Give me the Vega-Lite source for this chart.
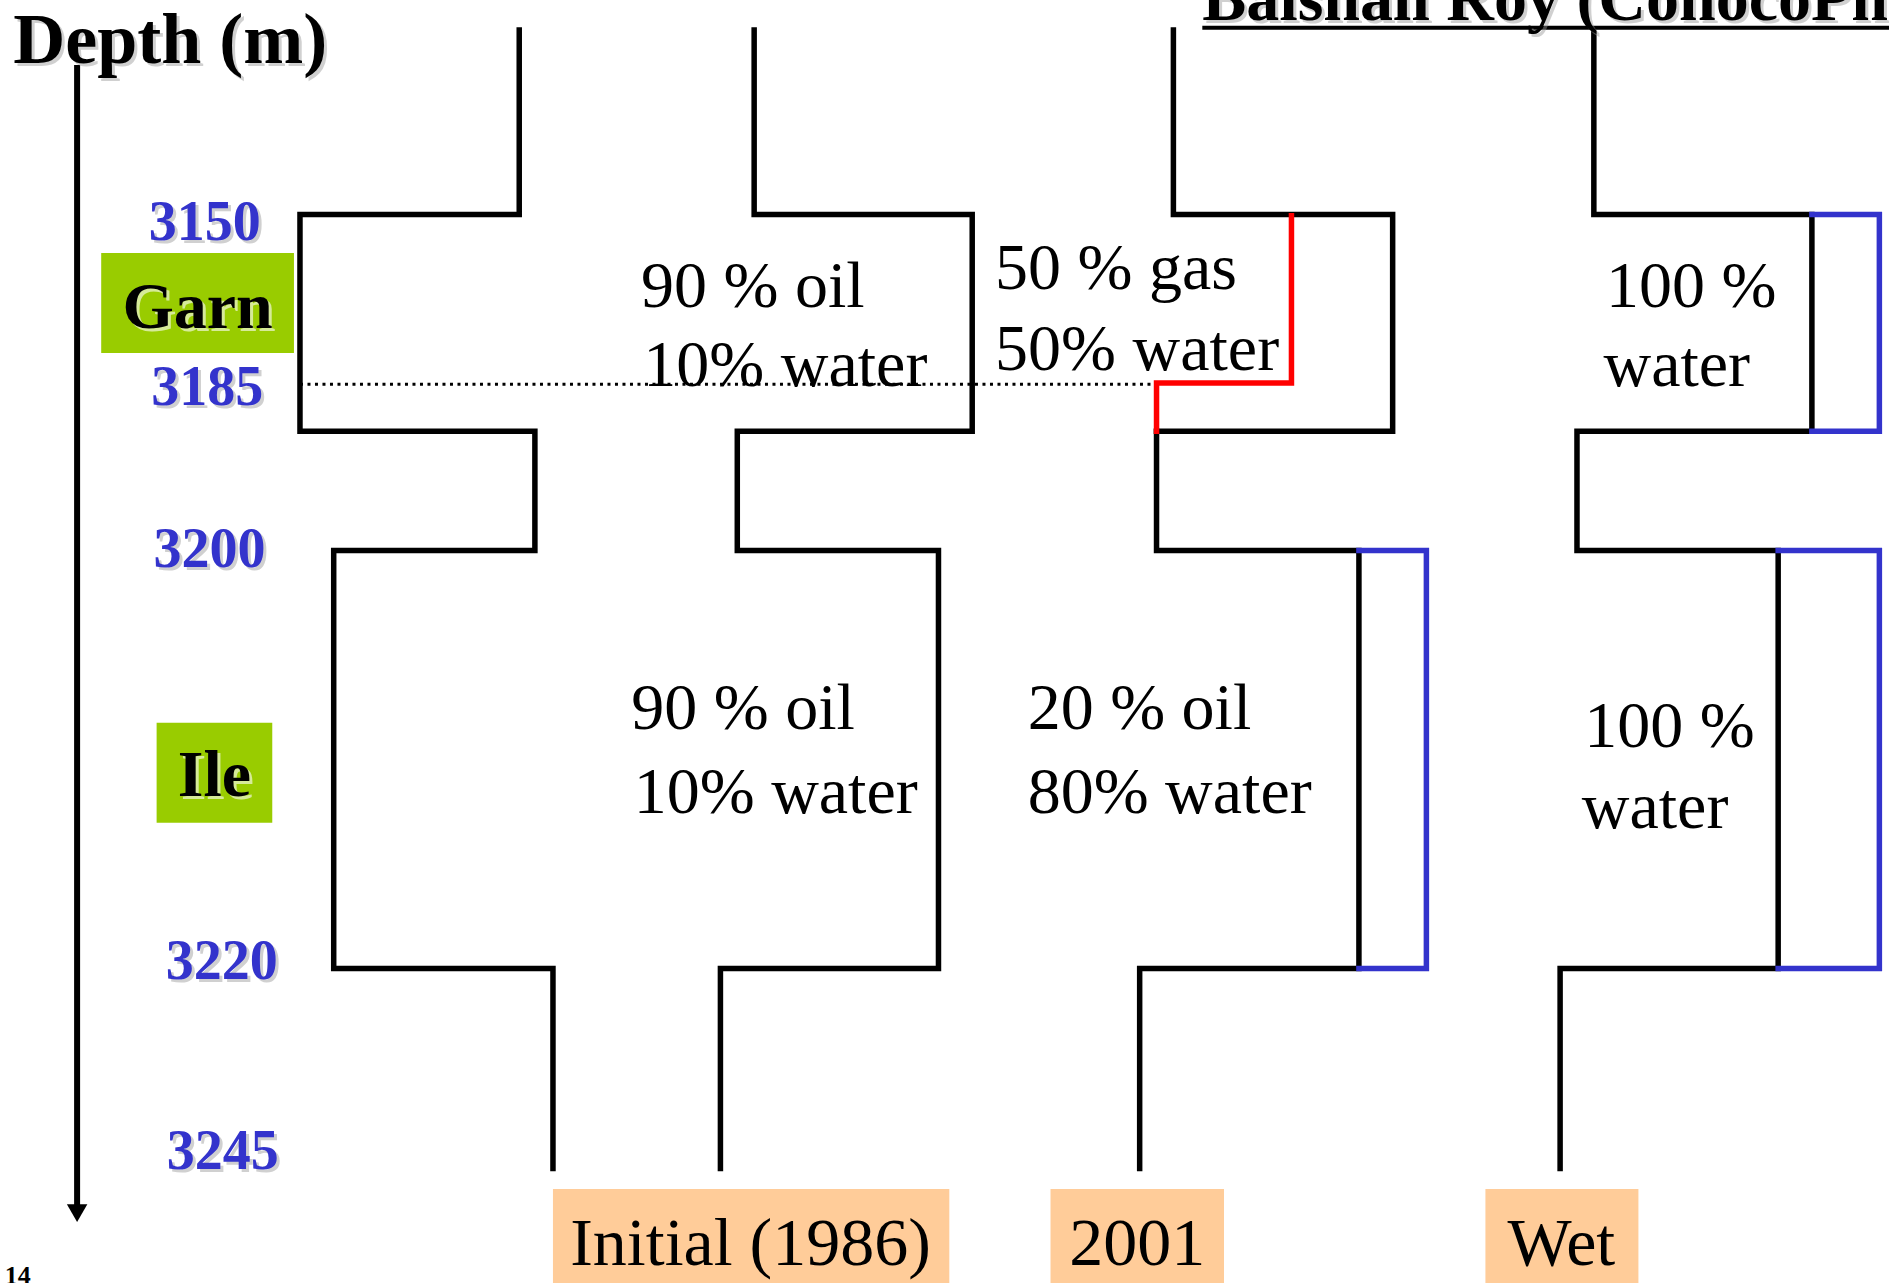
{
  "$schema": "https://vega.github.io/schema/vega-lite/v6.json",
  "width": 1889,
  "height": 1283,
  "autosize": {"type": "none"},
  "padding": 0,
  "background": "white",
  "config": {"view": {"stroke": null}},
  "resolve": {"scale": {"color": "independent"}},
  "datasets": {
    "boxes": [
      {"kind": "formation", "x1": 84, "x2": 244, "y1": 210, "y2": 293},
      {"kind": "formation", "x1": 130, "x2": 226, "y1": 600, "y2": 683},
      {"kind": "case", "x1": 459, "x2": 788, "y1": 987, "y2": 1066},
      {"kind": "case", "x1": 872, "x2": 1016, "y1": 987, "y2": 1066},
      {"kind": "case", "x1": 1233, "x2": 1360, "y1": 987, "y2": 1066}
    ],
    "contact": [
      {"x": 249, "y": 319},
      {"x": 958, "y": 319}
    ],
    "paths": [
      {"path": "p1", "fluid": "well", "o": 0, "x": 431, "y": 25},
      {"path": "p1", "fluid": "well", "o": 1, "x": 431, "y": 178},
      {"path": "p1", "fluid": "well", "o": 2, "x": 249, "y": 178},
      {"path": "p1", "fluid": "well", "o": 3, "x": 249, "y": 358},
      {"path": "p1", "fluid": "well", "o": 4, "x": 444, "y": 358},
      {"path": "p1", "fluid": "well", "o": 5, "x": 444, "y": 457},
      {"path": "p1", "fluid": "well", "o": 6, "x": 277, "y": 457},
      {"path": "p1", "fluid": "well", "o": 7, "x": 277, "y": 804},
      {"path": "p1", "fluid": "well", "o": 8, "x": 459, "y": 804},
      {"path": "p1", "fluid": "well", "o": 9, "x": 459, "y": 970},
      {"path": "p2", "fluid": "well", "o": 0, "x": 626, "y": 25},
      {"path": "p2", "fluid": "well", "o": 1, "x": 626, "y": 178},
      {"path": "p2", "fluid": "well", "o": 2, "x": 807, "y": 178},
      {"path": "p2", "fluid": "well", "o": 3, "x": 807, "y": 358},
      {"path": "p2", "fluid": "well", "o": 4, "x": 612, "y": 358},
      {"path": "p2", "fluid": "well", "o": 5, "x": 612, "y": 457},
      {"path": "p2", "fluid": "well", "o": 6, "x": 779, "y": 457},
      {"path": "p2", "fluid": "well", "o": 7, "x": 779, "y": 804},
      {"path": "p2", "fluid": "well", "o": 8, "x": 598, "y": 804},
      {"path": "p2", "fluid": "well", "o": 9, "x": 598, "y": 970},
      {"path": "p3", "fluid": "well", "o": 0, "x": 974, "y": 25},
      {"path": "p3", "fluid": "well", "o": 1, "x": 974, "y": 178},
      {"path": "p3", "fluid": "well", "o": 2, "x": 1156, "y": 178},
      {"path": "p3", "fluid": "well", "o": 3, "x": 1156, "y": 358},
      {"path": "p3", "fluid": "well", "o": 4, "x": 960, "y": 358},
      {"path": "p4", "fluid": "well", "o": 0, "x": 960, "y": 358},
      {"path": "p4", "fluid": "well", "o": 1, "x": 960, "y": 457},
      {"path": "p4", "fluid": "well", "o": 2, "x": 1128, "y": 457},
      {"path": "p4", "fluid": "well", "o": 3, "x": 1128, "y": 804},
      {"path": "p4", "fluid": "well", "o": 4, "x": 946, "y": 804},
      {"path": "p4", "fluid": "well", "o": 5, "x": 946, "y": 970},
      {"path": "p7", "fluid": "well", "o": 0, "x": 1323, "y": 28},
      {"path": "p7", "fluid": "well", "o": 1, "x": 1323, "y": 178},
      {"path": "p7", "fluid": "well", "o": 2, "x": 1504, "y": 178},
      {"path": "p7", "fluid": "well", "o": 3, "x": 1504, "y": 358},
      {"path": "p7", "fluid": "well", "o": 4, "x": 1309, "y": 358},
      {"path": "p7", "fluid": "well", "o": 5, "x": 1309, "y": 457},
      {"path": "p7", "fluid": "well", "o": 6, "x": 1476, "y": 457},
      {"path": "p7", "fluid": "well", "o": 7, "x": 1476, "y": 804},
      {"path": "p7", "fluid": "well", "o": 8, "x": 1295, "y": 804},
      {"path": "p7", "fluid": "well", "o": 9, "x": 1295, "y": 970},
      {"path": "p5", "fluid": "gas", "o": 0, "x": 1072, "y": 179},
      {"path": "p5", "fluid": "gas", "o": 1, "x": 1072, "y": 318},
      {"path": "p5", "fluid": "gas", "o": 2, "x": 960, "y": 318},
      {"path": "p5", "fluid": "gas", "o": 3, "x": 960, "y": 358},
      {"path": "p6", "fluid": "water", "o": 0, "x": 1128, "y": 457},
      {"path": "p6", "fluid": "water", "o": 1, "x": 1184, "y": 457},
      {"path": "p6", "fluid": "water", "o": 2, "x": 1184, "y": 804},
      {"path": "p6", "fluid": "water", "o": 3, "x": 1128, "y": 804},
      {"path": "p8", "fluid": "water", "o": 0, "x": 1504, "y": 178},
      {"path": "p8", "fluid": "water", "o": 1, "x": 1560, "y": 178},
      {"path": "p8", "fluid": "water", "o": 2, "x": 1560, "y": 358},
      {"path": "p8", "fluid": "water", "o": 3, "x": 1504, "y": 358},
      {"path": "p9", "fluid": "water", "o": 0, "x": 1476, "y": 457},
      {"path": "p9", "fluid": "water", "o": 1, "x": 1560, "y": 457},
      {"path": "p9", "fluid": "water", "o": 2, "x": 1560, "y": 804},
      {"path": "p9", "fluid": "water", "o": 3, "x": 1476, "y": 804}
    ],
    "arrow": [
      {"x": 64, "y": 54, "y2": 1002}
    ],
    "arrowHead": [
      {"x": 64, "y": 1007}
    ],
    "underline": [
      {"x": 998, "x2": 1568, "y": 23}
    ],
    "wellText": [
      {"t": "90 % oil", "x": 532, "y": 255},
      {"t": "10% water", "x": 534, "y": 320},
      {"t": "90 % oil", "x": 524, "y": 605},
      {"t": "10% water", "x": 526, "y": 675},
      {"t": "50 % gas", "x": 826, "y": 240},
      {"t": "50% water", "x": 826, "y": 307},
      {"t": "20 % oil", "x": 853, "y": 605},
      {"t": "80% water", "x": 853, "y": 675},
      {"t": "100 %", "x": 1333, "y": 255},
      {"t": "water", "x": 1331, "y": 320},
      {"t": "100 %", "x": 1315, "y": 620},
      {"t": "water", "x": 1313, "y": 687}
    ],
    "depths": [
      {"t": "3150", "x": 170, "y": 199},
      {"t": "3185", "x": 172, "y": 336},
      {"t": "3200", "x": 174, "y": 471},
      {"t": "3220", "x": 184, "y": 813},
      {"t": "3245", "x": 185, "y": 970}
    ],
    "formations": [
      {"t": "Garn", "x": 164, "y": 272},
      {"t": "Ile", "x": 178, "y": 661}
    ],
    "cases": [
      {"t": "Initial (1986)", "x": 623, "y": 1050},
      {"t": "2001", "x": 944, "y": 1050},
      {"t": "Wet", "x": 1296, "y": 1050}
    ],
    "depthTitle": [{"t": "Depth (m)", "x": 11, "y": 52}],
    "author": [{"t": "Baishali Roy (ConocoPhillips)", "x": 998, "y": 17}],
    "page": [{"t": "14", "x": 4, "y": 1066}]
  },
  "layer": [
    {
      "data": {"name": "boxes"},
      "mark": {"type": "rect"},
      "encoding": {
        "x": {"field": "x1", "type": "quantitative", "scale": {"domain": [0, 1568], "nice": false, "zero": false}, "axis": null},
        "x2": {"field": "x2"},
        "y": {"field": "y1", "type": "quantitative", "scale": {"domain": [0, 1065], "nice": false, "zero": false, "reverse": true}, "axis": null},
        "y2": {"field": "y2"},
        "color": {"field": "kind", "type": "nominal", "scale": {"domain": ["formation", "case"], "range": ["#99CC00", "#FFCC99"]}, "legend": null}
      }
    },
    {
      "data": {"name": "contact"},
      "mark": {"type": "line", "color": "#000000", "strokeWidth": 3, "strokeDash": [3, 4.5]},
      "encoding": {
        "x": {"field": "x", "type": "quantitative", "scale": {"domain": [0, 1568], "nice": false, "zero": false}, "axis": null},
        "y": {"field": "y", "type": "quantitative", "scale": {"domain": [0, 1065], "nice": false, "zero": false, "reverse": true}, "axis": null}
      }
    },
    {
      "data": {"name": "paths"},
      "mark": {"type": "line", "strokeWidth": 5.5, "strokeCap": "square", "strokeJoin": "miter"},
      "encoding": {
        "x": {"field": "x", "type": "quantitative", "scale": {"domain": [0, 1568], "nice": false, "zero": false}, "axis": null},
        "y": {"field": "y", "type": "quantitative", "scale": {"domain": [0, 1065], "nice": false, "zero": false, "reverse": true}, "axis": null},
        "detail": {"field": "path", "type": "nominal"},
        "order": {"field": "o", "type": "quantitative"},
        "color": {"field": "fluid", "type": "nominal", "scale": {"domain": ["well", "gas", "water"], "range": ["#000000", "#FF0000", "#3333CC"]}, "legend": null}
      }
    },
    {
      "data": {"name": "arrow"},
      "mark": {"type": "rule", "color": "#000000", "strokeWidth": 6},
      "encoding": {
        "x": {"field": "x", "type": "quantitative", "scale": {"domain": [0, 1568], "nice": false, "zero": false}, "axis": null},
        "y": {"field": "y", "type": "quantitative", "scale": {"domain": [0, 1065], "nice": false, "zero": false, "reverse": true}, "axis": null},
        "y2": {"field": "y2"}
      }
    },
    {
      "data": {"name": "arrowHead"},
      "mark": {"type": "point", "shape": "triangle-down", "filled": true, "color": "#000000", "size": 420, "opacity": 1},
      "encoding": {
        "x": {"field": "x", "type": "quantitative", "scale": {"domain": [0, 1568], "nice": false, "zero": false}, "axis": null},
        "y": {"field": "y", "type": "quantitative", "scale": {"domain": [0, 1065], "nice": false, "zero": false, "reverse": true}, "axis": null}
      }
    },
    {
      "data": {"name": "underline"},
      "mark": {"type": "rule", "color": "#000000", "strokeWidth": 4},
      "encoding": {
        "x": {"field": "x", "type": "quantitative", "scale": {"domain": [0, 1568], "nice": false, "zero": false}, "axis": null},
        "x2": {"field": "x2"},
        "y": {"field": "y", "type": "quantitative", "scale": {"domain": [0, 1065], "nice": false, "zero": false, "reverse": true}, "axis": null}
      }
    },
    {
      "data": {"name": "wellText"},
      "mark": {"type": "text", "font": "Liberation Serif", "fontSize": 66, "align": "left", "baseline": "alphabetic", "color": "#000000"},
      "encoding": {
        "x": {"field": "x", "type": "quantitative", "scale": {"domain": [0, 1568], "nice": false, "zero": false}, "axis": null},
        "y": {"field": "y", "type": "quantitative", "scale": {"domain": [0, 1065], "nice": false, "zero": false, "reverse": true}, "axis": null},
        "text": {"field": "t"}
      }
    },
    {
      "data": {"name": "cases"},
      "mark": {"type": "text", "font": "Liberation Serif", "fontSize": 68, "align": "center", "baseline": "alphabetic", "color": "#000000"},
      "encoding": {
        "x": {"field": "x", "type": "quantitative", "scale": {"domain": [0, 1568], "nice": false, "zero": false}, "axis": null},
        "y": {"field": "y", "type": "quantitative", "scale": {"domain": [0, 1065], "nice": false, "zero": false, "reverse": true}, "axis": null},
        "text": {"field": "t"}
      }
    },
    {
      "data": {"name": "depths"},
      "mark": {"type": "text", "font": "Liberation Serif", "fontWeight": "bold", "fontSize": 56, "align": "center", "baseline": "alphabetic", "color": "#999999", "opacity": 0.45, "dx": 3, "dy": 3},
      "encoding": {
        "x": {"field": "x", "type": "quantitative", "scale": {"domain": [0, 1568], "nice": false, "zero": false}, "axis": null},
        "y": {"field": "y", "type": "quantitative", "scale": {"domain": [0, 1065], "nice": false, "zero": false, "reverse": true}, "axis": null},
        "text": {"field": "t"}
      }
    },
    {
      "data": {"name": "depths"},
      "mark": {"type": "text", "font": "Liberation Serif", "fontWeight": "bold", "fontSize": 56, "align": "center", "baseline": "alphabetic", "color": "#3333CC"},
      "encoding": {
        "x": {"field": "x", "type": "quantitative", "scale": {"domain": [0, 1568], "nice": false, "zero": false}, "axis": null},
        "y": {"field": "y", "type": "quantitative", "scale": {"domain": [0, 1065], "nice": false, "zero": false, "reverse": true}, "axis": null},
        "text": {"field": "t"}
      }
    },
    {
      "data": {"name": "formations"},
      "mark": {"type": "text", "font": "Liberation Serif", "fontWeight": "bold", "fontSize": 66, "align": "center", "baseline": "alphabetic", "color": "#FFFFFF", "opacity": 0.6, "dx": 3, "dy": 3},
      "encoding": {
        "x": {"field": "x", "type": "quantitative", "scale": {"domain": [0, 1568], "nice": false, "zero": false}, "axis": null},
        "y": {"field": "y", "type": "quantitative", "scale": {"domain": [0, 1065], "nice": false, "zero": false, "reverse": true}, "axis": null},
        "text": {"field": "t"}
      }
    },
    {
      "data": {"name": "formations"},
      "mark": {"type": "text", "font": "Liberation Serif", "fontWeight": "bold", "fontSize": 66, "align": "center", "baseline": "alphabetic", "color": "#000000"},
      "encoding": {
        "x": {"field": "x", "type": "quantitative", "scale": {"domain": [0, 1568], "nice": false, "zero": false}, "axis": null},
        "y": {"field": "y", "type": "quantitative", "scale": {"domain": [0, 1065], "nice": false, "zero": false, "reverse": true}, "axis": null},
        "text": {"field": "t"}
      }
    },
    {
      "data": {"name": "depthTitle"},
      "mark": {"type": "text", "font": "Liberation Serif", "fontWeight": "bold", "fontSize": 72, "align": "left", "baseline": "alphabetic", "color": "#999999", "opacity": 0.45, "dx": 3, "dy": 3},
      "encoding": {
        "x": {"field": "x", "type": "quantitative", "scale": {"domain": [0, 1568], "nice": false, "zero": false}, "axis": null},
        "y": {"field": "y", "type": "quantitative", "scale": {"domain": [0, 1065], "nice": false, "zero": false, "reverse": true}, "axis": null},
        "text": {"field": "t"}
      }
    },
    {
      "data": {"name": "depthTitle"},
      "mark": {"type": "text", "font": "Liberation Serif", "fontWeight": "bold", "fontSize": 72, "align": "left", "baseline": "alphabetic", "color": "#000000"},
      "encoding": {
        "x": {"field": "x", "type": "quantitative", "scale": {"domain": [0, 1568], "nice": false, "zero": false}, "axis": null},
        "y": {"field": "y", "type": "quantitative", "scale": {"domain": [0, 1065], "nice": false, "zero": false, "reverse": true}, "axis": null},
        "text": {"field": "t"}
      }
    },
    {
      "data": {"name": "author"},
      "mark": {"type": "text", "font": "Liberation Serif", "fontWeight": "bold", "fontSize": 66, "align": "left", "baseline": "alphabetic", "color": "#999999", "opacity": 0.45, "dx": 3, "dy": 3},
      "encoding": {
        "x": {"field": "x", "type": "quantitative", "scale": {"domain": [0, 1568], "nice": false, "zero": false}, "axis": null},
        "y": {"field": "y", "type": "quantitative", "scale": {"domain": [0, 1065], "nice": false, "zero": false, "reverse": true}, "axis": null},
        "text": {"field": "t"}
      }
    },
    {
      "data": {"name": "author"},
      "mark": {"type": "text", "font": "Liberation Serif", "fontWeight": "bold", "fontSize": 66, "align": "left", "baseline": "alphabetic", "color": "#000000"},
      "encoding": {
        "x": {"field": "x", "type": "quantitative", "scale": {"domain": [0, 1568], "nice": false, "zero": false}, "axis": null},
        "y": {"field": "y", "type": "quantitative", "scale": {"domain": [0, 1065], "nice": false, "zero": false, "reverse": true}, "axis": null},
        "text": {"field": "t"}
      }
    },
    {
      "data": {"name": "page"},
      "mark": {"type": "text", "font": "Liberation Serif", "fontWeight": "bold", "fontSize": 26, "align": "left", "baseline": "alphabetic", "color": "#000000"},
      "encoding": {
        "x": {"field": "x", "type": "quantitative", "scale": {"domain": [0, 1568], "nice": false, "zero": false}, "axis": null},
        "y": {"field": "y", "type": "quantitative", "scale": {"domain": [0, 1065], "nice": false, "zero": false, "reverse": true}, "axis": null},
        "text": {"field": "t"}
      }
    }
  ]
}
